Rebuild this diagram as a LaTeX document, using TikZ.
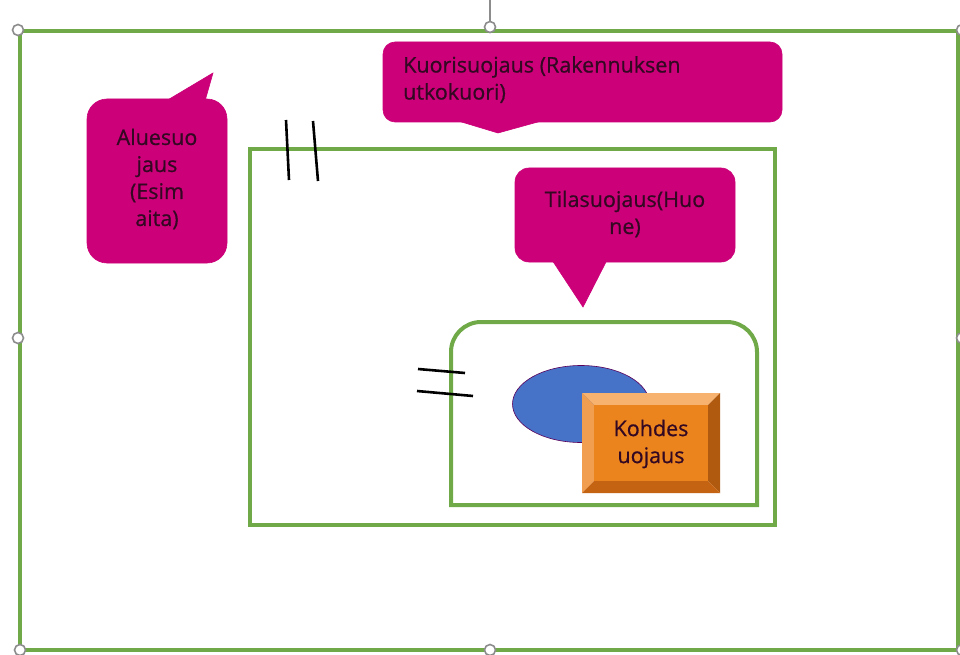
\documentclass[tikz,border=0pt]{standalone}
\usepackage{fontspec}
\setmainfont{Open Sans}
\newfontfamily\btfont{Open Sans}[FakeBold=0.6]
\usetikzlibrary{shapes.geometric}
\definecolor{grn}{RGB}{112,170,72}
\definecolor{mag}{RGB}{204,0,120}
\definecolor{txt}{RGB}{50,8,34}
\definecolor{blu}{RGB}{70,114,200}
\definecolor{org}{RGB}{236,132,30}
\definecolor{orgL}{RGB}{246,178,110}
\definecolor{orgM}{RGB}{242,158,80}
\definecolor{orgD}{RGB}{176,90,16}
\definecolor{orgB}{RGB}{196,100,18}
\definecolor{hnd}{RGB}{140,140,140}
\tikzset{
  frame/.style={draw=grn,line width=4pt},
  bubble/.style={fill=mag,draw=mag,line width=0.6pt},
  btext/.style={text=txt,font=\btfont\fontsize{21.5}{27}\selectfont,inner sep=0pt},
  tick/.style={draw=black,line width=2.6pt},
  handle/.style={circle,draw=hnd,fill=white,line width=1.6pt,minimum size=11pt,inner sep=0pt}
}
\begin{document}
\begin{tikzpicture}[x=1pt,y=-1pt]
\useasboundingbox (0,0) rectangle (960,655);
\fill[white] (0,0) rectangle (960,655);
% outer frame
\draw[frame] (20,31) rectangle (958,650);
% building
\draw[frame] (250,149) rectangle (775,525);
% room
\draw[frame] (451,505) -- (451,420) [rounded corners=30pt] -- (451,322) -- (757,322) -- (757,420) [sharp corners] -- (757,505) -- cycle;
% object
\node[ellipse,fill=blu,draw=violet!70!black,line width=0.6pt,minimum width=137pt,minimum height=77pt,inner sep=0pt] (ell) at (581,404) {};
\fill[orgL] (582,393) -- (720,393) -- (708,405) -- (594,405) -- cycle;
\fill[orgM] (582,393) -- (594,405) -- (594,481) -- (582,493) -- cycle;
\fill[orgD] (720,393) -- (720,493) -- (708,481) -- (708,405) -- cycle;
\fill[orgB] (582,493) -- (594,481) -- (708,481) -- (720,493) -- cycle;
\fill[org] (594,405) rectangle (708,481);
\node[btext,align=center] (kohde) at (651,444) {Kohdes\\uojaus};
% callout Aluesuojaus
\fill[bubble,rounded corners=20pt] (87,99) rectangle (227,263);
\fill[bubble] (166,101) -- (213,73) -- (205,101) -- cycle;
\node[btext,align=center] (alue) at (157,179) {Aluesuo\\jaus\\(Esim\\aita)};
% callout Kuorisuojaus
\fill[bubble,rounded corners=12pt] (383,42) rectangle (782,122);
\fill[bubble] (455,120) -- (498,133) -- (545,120) -- cycle;
\node[btext,align=left,anchor=north west] (kuori) at (403,56) {Kuorisuojaus (Rakennuksen\\utkokuori)};
% callout Tilasuojaus
\fill[bubble,rounded corners=14pt] (515,168) rectangle (735,262);
\fill[bubble] (552,260) -- (583,307) -- (607,260) -- cycle;
\node[btext,align=center] (tila) at (625,214) {Tilasuojaus(Huo\\ne)};
% ticks
\coordinate (t1a) at (286,120); \coordinate (t1b) at (289,180);
\coordinate (t2a) at (313,121); \coordinate (t2b) at (318,181);
\coordinate (t3a) at (418,369); \coordinate (t3b) at (465,373);
\coordinate (t4a) at (417,391); \coordinate (t4b) at (473,396);
\draw[tick] (t1a) -- (t1b);
\draw[tick] (t2a) -- (t2b);
\draw[tick] (t3a) -- (t3b);
\draw[tick] (t4a) -- (t4b);
% selection handles
\coordinate (rot) at (490,0);
\node[handle] (h2) at (490,27) {};
\draw[hnd,line width=1.2pt] (rot) -- (h2);
\node[handle] (h1) at (18,30) {};
\node[handle] (h3) at (962,30) {};
\node[handle] (h4) at (18,338) {};
\node[handle] (h5) at (962,338) {};
\node[handle] (h6) at (20,650) {};
\node[handle] (h7) at (490,650) {};
\node[handle] (h8) at (962,650) {};
\end{tikzpicture}
\end{document}
